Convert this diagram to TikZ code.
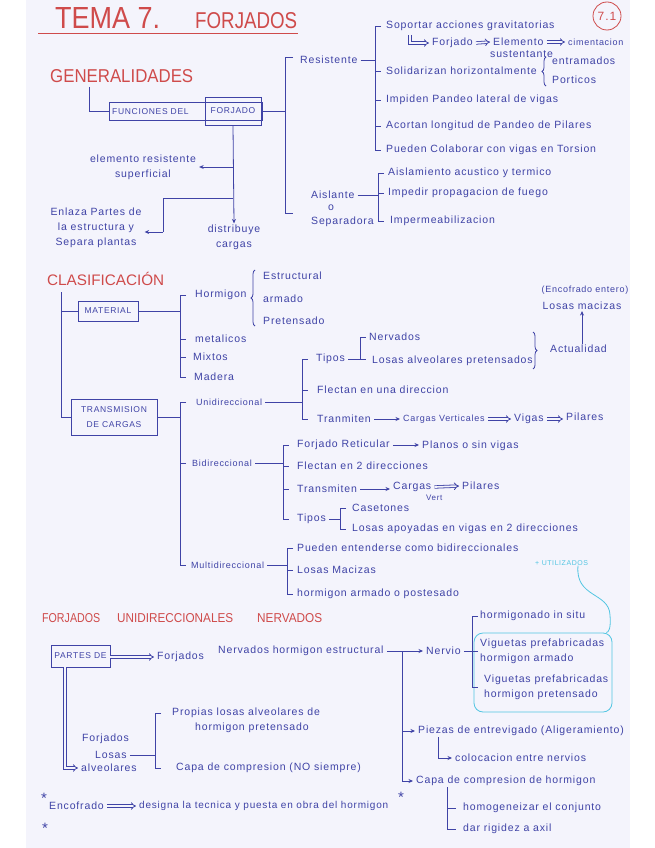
\documentclass[tikz,border=0pt]{standalone}
\usepackage{fontspec}
\setmainfont{Liberation Sans}
\newfontfamily\handfont[LetterSpace=8]{Liberation Sans}
\usetikzlibrary{arrows.meta,calc,decorations.pathreplacing}
\definecolor{ink}{HTML}{3F43A6}
\definecolor{redink}{HTML}{CF4B4B}
\definecolor{cyanink}{HTML}{52C5E2}
\definecolor{paper}{HTML}{F4F4FC}
\newcommand\hfont{\handfont\fontsize{10.5}{15}\selectfont}
\newcommand\sfnt{\handfont\fontsize{9}{12}\selectfont}
\newcommand\capfont{\handfont\fontsize{8.5}{15}\selectfont}
\begin{document}
\begin{tikzpicture}[x=1pt,y=-1pt,
 txt/.style={anchor=west, inner xsep=3pt, inner ysep=1pt, text=ink, font=\hfont},
 sm/.style={txt, font=\sfnt},
 ctr/.style={txt, anchor=center, align=center},
 astx/.style={anchor=center, inner sep=0pt, text=ink, font=\fontsize{15}{15}\selectfont},
 hd/.style={anchor=base west, inner sep=0pt, text=redink, font=\fontsize{10}{10}\selectfont},
 ln/.style={draw=ink, line width=0.8pt},
 arr/.style={ln, -{Stealth[length=4.5pt,width=4pt]}},
 dbl/.style={draw=ink, line width=0.8pt, double=paper, double distance=1.7pt, -{Implies}},
 bx/.style={draw=ink, line width=0.8pt, inner sep=1pt, text=ink, font=\capfont},
 brc/.style={ln, decorate, decoration={brace, amplitude=4pt}},
]
\fill[white] (0,0) rectangle (655,848);
\fill[paper] (26,0) rectangle (630,848);
\useasboundingbox (0,0) rectangle (655,848);

% ---------- title ----------
\node[hd] (t1) at (55,29) {\resizebox{105pt}{21pt}{TEMA 7.}};
\node[hd] (t2) at (195,29) {\resizebox{102pt}{16pt}{FORJADOS}};
\draw[redink, line width=0.9pt] (38,33) -- (298,33);
\node[circle, draw=redink, line width=0.8pt, text=redink, font=\handfont\fontsize{12}{12}\selectfont, minimum size=28pt, inner sep=0pt] (pg) at (607,16) {7.1};

% ---------- GENERALIDADES ----------
\node[hd] (gen) at (50,83) {\resizebox{143pt}{13pt}{GENERALIDADES}};
\node[draw=ink, line width=0.8pt, minimum width=153pt, minimum height=18pt, inner sep=0pt] (func) at (185.5,111) {};
\node[txt, font=\capfont] (fun1) at (109,112) {FUNCIONES DEL};
\node[draw=ink, line width=0.8pt, minimum width=56pt, minimum height=28pt, inner sep=0pt, text=ink, font=\capfont] (forj) at (233,111) {FORJADO};
\coordinate (g0) at (89,87);
\draw[ln] (g0) |- (func.west);

\node[ctr] (elem) at (143,167) {elemento resistente\\superficial};
\node[ctr] (dist) at (234,237) {distribuye\\cargas};
\node[ctr] (enl) at (96,228) {Enlaza Partes de\\la estructura y\\Separa plantas};
\draw[arr] (forj.south) -- (dist.north);
\draw[arr] (forj.south |- elem.east) -- (elem.east);
\coordinate (j2) at (233,198);
\coordinate (k2) at (163,232);
\draw[ln] (j2) -| (k2);
\draw[arr] (k2) -- (enl.east |- k2);

% main bracket of functions
\coordinate (bG) at (285,0);
\draw[ln] (293,57) -- (285,57) -- (285,213) -- (293,213);
\draw[ln] (forj.east) -- (bG |- forj.east);

% Resistente
\node[txt] (res) at (297,60) {Resistente};
\coordinate (bR) at (375,0);
\node[txt] (s1) at (383,26) {Soportar acciones gravitatorias};
\node[txt] (frj) at (429,43) {Forjado};
\node[txt] (ele) at (490,42) {Elemento};
\node[txt] (sus) at (487,54) {sustentante};
\node[sm] (cim) at (565,42) {cimentacion};
\draw[dbl] (410,35) |- (frj.west);
\draw[dbl] (frj.east) -- (ele.west);
\draw[dbl] (ele.east) -- (cim.west);
\node[txt] (s2) at (383,71) {Solidarizan horizontalmente};
\draw[brc] (546,86) -- (546,57);
\node[txt] (ent) at (549,61) {entramados};
\node[txt] (por) at (549,80) {Porticos};
\node[txt] (s3) at (383,100) {Impiden Pandeo lateral de vigas};
\node[txt] (s4) at (383,126) {Acortan longitud de Pandeo de Pilares};
\node[txt] (s5) at (383,150) {Pueden Colaborar con vigas en Torsion};
\draw[ln] (res.east) -- (bR |- res.east);
\draw[ln] ($(bR |- s1.west)+(6,0)$) -- (bR |- s1.west) -- (bR |- s5.west) -- ++(6,0);
\foreach \n in {s2,s3,s4} \draw[ln] (bR |- \n.west) -- ++(6,0);

% Aislante
\node[txt] (ais1) at (308,195) {Aislante};
\node[ctr] (ais2) at (331,208) {o};
\node[txt] (ais3) at (308,222) {Separadora};
\coordinate (bA) at (378,0);
\node[txt] (a1) at (385,173) {Aislamiento acustico y termico};
\node[txt] (a2) at (385,193) {Impedir propagacion de fuego};
\node[txt] (a3) at (387,221) {Impermeabilizacion};
\draw[ln] (ais1.east) -- (bA |- ais1.east);
\draw[ln] ($(bA |- a1.west)+(6,0)$) -- (bA |- a1.west) -- (bA |- a3.west) -- ++(6,0);
\draw[ln] (bA |- a2.west) -- ++(6,0);

% ---------- CLASIFICACION ----------
\node[hd] (cla) at (47,285) {\resizebox{117pt}{!}{\fontsize{13}{13}\selectfont CLASIFICACIÓN}};
\node[bx, minimum width=60pt, minimum height=20pt] (mat) at (108,311) {MATERIAL};
\node[bx, align=center, minimum width=86pt, minimum height=36pt] (trans) at (114,417) {TRANSMISION\\DE CARGAS};
\coordinate (cx) at (61,292);
\draw[ln] (cx) |- (trans.west);
\draw[ln] (cx |- mat.west) -- (mat.west);

% material
\coordinate (bM) at (180,0);
\node[txt] (h) at (192,295) {Hormigon};
\node[txt] (met) at (192,339) {metalicos};
\node[txt] (mix) at (190,357) {Mixtos};
\node[txt] (mad) at (191,377) {Madera};
\draw[ln] (mat.east) -- (bM |- mat.east);
\draw[ln] ($(bM |- h.west)+(6,0)$) -- (bM |- h.west) -- (bM |- mad.west) -- ++(6,0);
\foreach \n in {met,mix} \draw[ln] (bM |- \n.west) -- ++(6,0);
\draw[brc] (255,326) -- (255,270);
\node[txt] (est) at (260,276) {Estructural};
\node[txt] (arm) at (260,299) {armado};
\node[txt] (pre) at (260,321) {Pretensado};

% transmision
\coordinate (bT) at (180,0);
\node[sm] (uni) at (193,402) {Unidireccional};
\node[sm] (bid) at (189,463) {Bidireccional};
\node[sm] (mul) at (188,565) {Multidireccional};
\draw[ln] (trans.east) -- (bT |- trans.east);
\draw[ln] ($(bT |- uni.west)+(6,0)$) -- (bT |- uni.west) -- (bT |- mul.west) -- ++(6,0);
\draw[ln] (bT |- bid.west) -- ++(6,0);

% unidireccional
\coordinate (bU) at (302,0);
\node[txt] (tip) at (313,359) {Tipos};
\node[txt] (fl1) at (314,390) {Flectan en una direccion};
\node[txt] (tr1) at (314,419) {Tranmiten};
\draw[ln] (uni.east) -- (bU |- uni.east);
\draw[ln] ($(bU |- tip.west)+(6,0)$) -- (bU |- tip.west) -- (bU |- tr1.west) -- ++(6,0);
\draw[ln] (bU |- fl1.west) -- ++(6,0);
\coordinate (bU2) at (360,0);
\node[txt] (ner) at (366,337) {Nervados};
\node[txt] (los) at (369,361) {Losas alveolares pretensados};
\draw[ln] (tip.east) -- ($(bU2 |- tip.east)+(6,0)$);
\draw[ln] (bU2 |- tip.east) -- (bU2 |- ner.west) -- (ner.west);
\draw[brc] (533,332) -- (533,369);
\node[txt] (act) at (547,349) {Actualidad};
\node[ctr] (lm) at (582,306) {Losas macizas};
\node[ctr, font=\sfnt] (enc) at (585,290) {(Encofrado entero)};
\draw[arr] (act.north -| lm.south) -- (lm.south);
\node[sm] (cv) at (400,419) {Cargas Verticales};
\node[txt] (vg) at (511,419) {Vigas};
\node[txt] (pil) at (563,417) {Pilares};
\draw[arr] (tr1.east) -- (cv.west);
\draw[dbl] (cv.east) -- (vg.west);
\draw[dbl] (vg.east) -- (pil.west |- vg.east);

% bidireccional
\coordinate (bB) at (283,0);
\node[txt] (b1) at (294,445) {Forjado Reticular};
\node[txt] (pl) at (419,446) {Planos o sin vigas};
\node[txt] (b2) at (294,466) {Flectan en 2 direcciones};
\node[txt] (b3) at (294,489) {Transmiten};
\node[txt] (cg) at (390,487) {Cargas};
\node[sm, font=\handfont\fontsize{8}{9}\selectfont] (vert) at (423,498) {Vert};
\node[txt] (p2) at (459,486) {Pilares};
\node[txt] (b4) at (294,519) {Tipos};
\draw[ln] (bid.east) -- (bB |- bid.east);
\draw[ln] ($(bB |- b1.west)+(6,0)$) -- (bB |- b1.west) -- (bB |- b4.west) -- ++(6,0);
\foreach \n in {b2,b3} \draw[ln] (bB |- \n.west) -- ++(6,0);
\draw[arr] (b1.east) -- (pl.west |- b1.east);
\draw[arr] (b3.east) -- (cg.west |- b3.east);
\draw[dbl] (cg.east) -- (p2.west);
\coordinate (bB2) at (340,0);
\node[txt] (c1) at (349,508) {Casetones};
\node[txt] (c2) at (349,529) {Losas apoyadas en vigas en 2 direcciones};
\draw[ln] (b4.east) -- (bB2 |- b4.east);
\draw[ln] ($(bB2 |- c1.west)+(6,0)$) -- (bB2 |- c1.west) -- (bB2 |- c2.west) -- ++(6,0);

% multidireccional
\coordinate (bMu) at (287,0);
\node[txt] (m1) at (294,548) {Pueden entenderse como bidireccionales};
\node[txt] (m2) at (294,570) {Losas Macizas};
\node[txt] (m3) at (294,594) {hormigon armado o postesado};
\draw[ln] (mul.east) -- (bMu |- mul.east);
\draw[ln] ($(bMu |- m1.west)+(6,0)$) -- (bMu |- m1.west) -- (bMu |- m3.west) -- ++(6,0);
\draw[ln] (bMu |- m2.west) -- ++(6,0);

% + utilizados
\node[anchor=west, inner sep=0pt, text=cyanink, font=\handfont\fontsize{7}{8}\selectfont] (util) at (535,563) {+ UTILIZADOS};
\node[draw=cyanink, line width=0.8pt, rounded corners=9pt, minimum width=138pt, minimum height=79pt, inner sep=0pt] (ubox) at (543,672.5) {};
\draw[cyanink, line width=0.8pt] (util.south -| 578,0) .. controls (575,598) and (609,592) .. (610,615) .. controls (611,628) and (609,632) .. ($(ubox.north east)+(-6,0)$);

% ---------- FORJADOS UNIDIRECCIONALES NERVADOS ----------
\node[hd] (f1) at (42,622) {\resizebox{58pt}{9pt}{FORJADOS}};
\node[hd] (f2) at (117,622) {\resizebox{116pt}{9pt}{UNIDIRECCIONALES}};
\node[hd] (f3) at (257,622) {\resizebox{65pt}{9pt}{NERVADOS}};

\node[bx, minimum width=59pt, minimum height=22pt] (pd) at (80.5,656) {PARTES DE};
\node[txt] (fn) at (154,657) {Forjados};
\node[txt] (nh) at (215,651) {Nervados hormigon estructural};
\node[txt] (nv) at (423,651) {Nervio};
\draw[dbl] (pd.east |- fn.west) -- (fn.west);
\draw[arr] (nh.east) -- (nv.west);

\coordinate (bN) at (472,0);
\node[txt] (n1) at (477,616) {hormigonado in situ};
\node[txt, align=left] (n2) at (477,651) {Viguetas prefabricadas\\hormigon armado};
\node[txt, align=left] (n3) at (481,687) {Viguetas prefabricadas\\hormigon pretensado};
\draw[ln] (nv.east) -- (bN |- nv.east);
\draw[ln] ($(bN |- n1.west)+(6,0)$) -- (bN |- n1.west) -- (bN |- n3.west) -- ++(6,0);
\draw[ln] (bN |- n2.west) -- ++(6,0);

\coordinate (vx) at (402,0);
\node[txt] (pz) at (415,731) {Piezas de entrevigado (Aligeramiento)};
\node[txt] (col) at (452,758) {colocacion entre nervios};
\node[txt] (cp) at (413,781) {Capa de compresion de hormigon};
\draw[ln] (vx |- nh.east) -- (vx |- cp.west);
\draw[arr] (vx |- pz.west) -- (pz.west);
\draw[arr] (vx |- cp.west) -- (cp.west);
\draw[arr] (pz.south -| 438,0) |- (col.west);
\coordinate (bC) at (447,0);
\node[txt] (hz) at (460,808) {homogeneizar el conjunto};
\node[txt] (dr) at (460,829) {dar rigidez a axil};
\draw[ln] (bC |- cp.south) -- (bC |- dr.west) -- ++(9,0);
\draw[ln] (bC |- hz.west) -- ++(9,0);

% forjados losas alveolares
\coordinate (px) at (65,0);
\node[txt] (fl1) at (79,739) {Forjados};
\node[txt] (fl2) at (92,755) {Losas};
\node[txt] (fl3) at (78,768) {alveolares};
\draw[dbl] (px |- pd.south) |- (fl3.west);
\coordinate (bF) at (155,0);
\node[txt] (pr1) at (169,713) {Propias losas alveolares de};
\node[txt] (pr2) at (192,728) {hormigon pretensado};
\node[txt] (cc) at (173,768) {Capa de compresion (NO siempre)};
\draw[ln] (fl2.east) -- (bF |- fl2.east);
\draw[ln] ($(bF |- pr1.west)+(6,0)$) -- (bF |- pr1.west) -- (bF |- cc.west) -- ++(6,0);

% footnote
\node[astx] (ast1) at (44,798) {*};
\node[txt] (enc2) at (46,806) {Encofrado};
\node[txt, font=\handfont\fontsize{10}{15}\selectfont] (des) at (136,806) {designa la tecnica y puesta en obra del hormigon};
\draw[dbl] (enc2.east) -- (des.west);
\node[astx] (ast2) at (401,797) {*};
\node[astx] (ast3) at (45,828) {*};
\end{tikzpicture}
\end{document}
